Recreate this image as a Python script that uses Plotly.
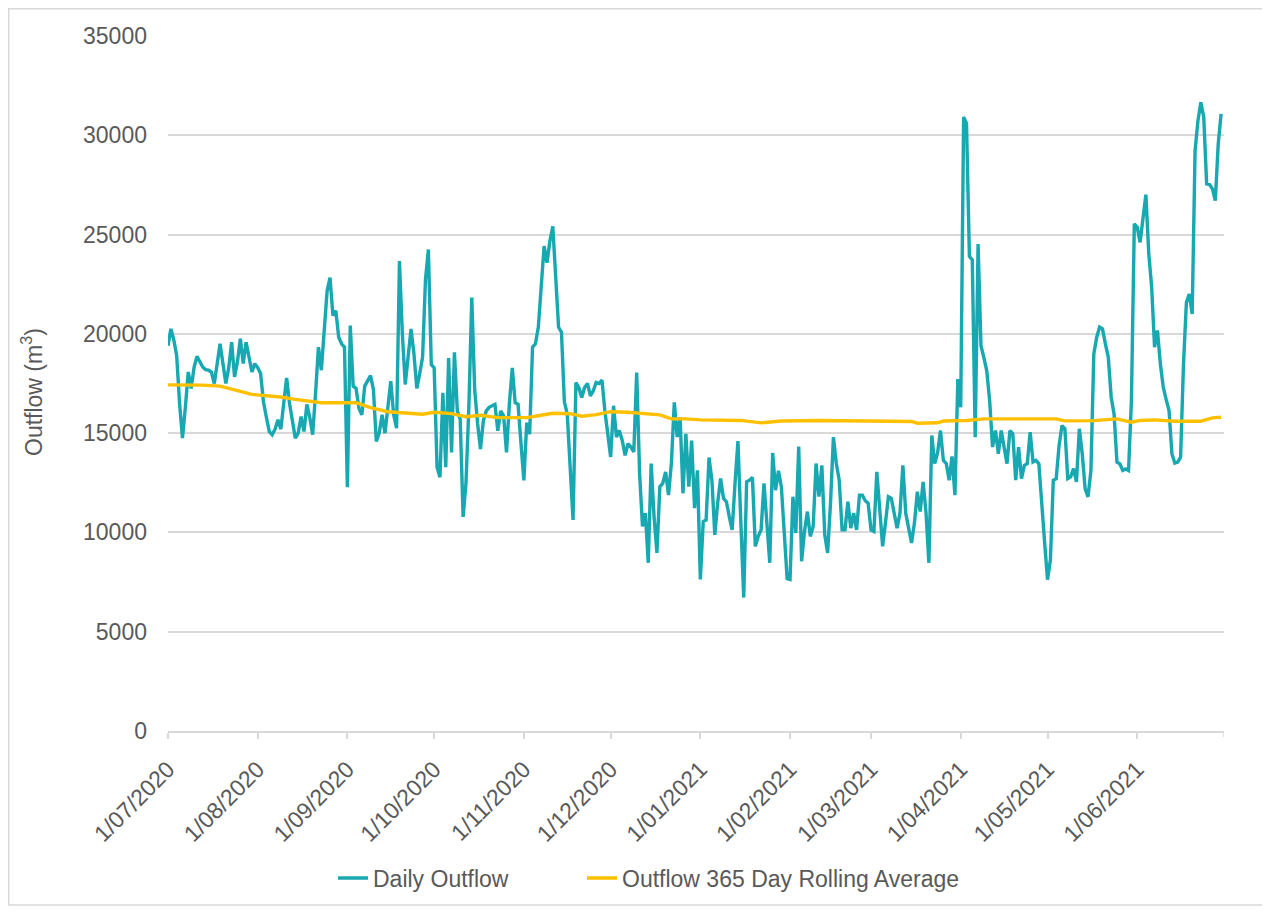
import plotly.graph_objects as go
import pandas as pd

# ---- Daily outflow (m3), one list per month ----
jul_2020 = [19400, 20250, 19700, 18900, 16500, 14750, 16300, 18080, 17250, 18300,
            18870, 18600, 18330, 18200, 18170, 18080, 17500, 18500, 19500, 18500,
            17500, 18300, 19580, 17830, 18600, 19750, 18500, 19580, 18700, 18080, 18500]
aug_2020 = [18300, 18000, 16580, 15800, 15080, 14920, 15200, 15670, 15200, 16500,
            17780, 16500, 15500, 14750, 15000, 15830, 15080, 16450, 15800, 14920,
            17000, 19330, 18170, 20300, 22170, 22830, 20920, 21170, 19830, 19500, 19330]
sep_2020 = [12280, 20420, 17370, 17250, 16250, 15920, 17370, 17600, 17900, 17200,
            14580, 15000, 15920, 15000, 16200, 17620, 15920, 15250, 23670, 20000,
            17450, 18800, 20250, 19000, 17250, 18000, 18830, 22750, 24250, 18450]
oct_2020 = [18280, 13280, 12780, 17030, 13280, 18780, 14030, 19070, 16120, 15700,
            10780, 12500, 16370, 21830, 17200, 15500, 14200, 15620, 16120, 16300,
            16400, 16450, 15120, 16120, 15870, 14030, 16500, 18280, 16530, 16450, 14500]
nov_2020 = [12620, 15530, 14950, 19330, 19500, 20330, 22500, 24420, 23580, 24670,
            25420, 22500, 20330, 20080, 16580, 15970, 13300, 10630, 17550, 17300,
            16800, 17300, 17500, 16880, 17130, 17550, 17500, 17670, 16130, 15000]
dec_2020 = [13800, 16380, 14800, 15130, 14630, 13880, 14470, 14300, 14050, 18050,
            13000, 10300, 10970, 8470, 13470, 10800, 8970, 12300, 12470, 13050,
            11880, 13500, 16550, 14800, 15800, 11970, 14970, 12300, 14630, 11220, 13130]
jan_2021 = [7630, 10550, 10630, 13770, 12630, 9880, 11500, 12720, 11720, 11550,
            10800, 10130, 12500, 14600, 10500, 6720, 12550, 12630, 12770, 9300,
            9800, 10130, 12470, 10500, 8470, 14000, 12130, 13100, 12300, 10000, 7670]
feb_2021 = [7630, 11800, 9970, 14330, 8550, 10050, 11050, 9800, 10300, 13470,
            11800, 13380, 9880, 8970, 11500, 14800, 13470, 12630, 10130, 10130,
            11550, 10220, 10970, 10130, 11880, 11880, 11600, 11470]
mar_2021 = [10130, 10050, 13050, 11000, 9300, 10500, 11800, 11720, 11000, 10220,
            10970, 13380, 10970, 10200, 9470, 10470, 12050, 11050, 12550, 11000,
            8470, 14880, 13470, 14000, 15130, 13630, 13470, 12630, 13830, 11880, 17720]
apr_2021 = [16300, 30920, 30600, 23900, 23730, 14800, 24520, 19400, 18800, 18140,
            16640, 14300, 15130, 13960, 15130, 14300, 13460, 15130, 14970, 12630,
            14300, 12710, 13380, 13460, 15050, 13550, 13630, 13460, 11290, 9500]
may_2021 = [7620, 8620, 12630, 12710, 14380, 15380, 15220, 12710, 12800, 13210,
            12550, 15220, 13960, 12210, 11790, 13120, 18990, 19830, 20340, 20250,
            19500, 18830, 16810, 15970, 13540, 13460, 13120, 13200, 13120, 16640, 25540]
jun_2021 = [25370, 24610, 25800, 27010, 24030, 22350, 19330, 20170, 18490, 17320,
            16700, 16140, 13960, 13490, 13540, 13790, 18490, 21590, 22010, 21000,
            29230, 30740, 31660, 30910, 27550, 27520, 27300, 26710, 29560, 31080]

daily_outflow = (jul_2020 + aug_2020 + sep_2020 + oct_2020 + nov_2020 + dec_2020 +
                 jan_2021 + feb_2021 + mar_2021 + apr_2021 + may_2021 + jun_2021)
daily_dates = pd.date_range("2020-07-01", periods=len(daily_outflow), freq="D")

# ---- 365 day rolling average (m3), read at selected dates ----
rolling_dates = ["2020-07-01", "2020-07-13", "2020-07-19", "2020-07-23", "2020-07-27",
                 "2020-07-30", "2020-08-03", "2020-08-09", "2020-08-14", "2020-08-18",
                 "2020-08-23", "2020-09-04", "2020-09-09", "2020-09-15", "2020-09-21",
                 "2020-09-27", "2020-10-01", "2020-10-07", "2020-10-12", "2020-10-17",
                 "2020-10-23", "2020-11-02", "2020-11-07", "2020-11-11", "2020-11-17",
                 "2020-11-21", "2020-11-26", "2020-12-01", "2020-12-07", "2020-12-13",
                 "2020-12-18", "2020-12-22", "2020-12-27", "2021-01-01", "2021-01-15",
                 "2021-01-22", "2021-01-25", "2021-01-29", "2021-02-11", "2021-02-18",
                 "2021-03-08", "2021-03-15", "2021-03-17", "2021-03-24", "2021-03-26",
                 "2021-04-03", "2021-04-09", "2021-05-04", "2021-05-07", "2021-05-17",
                 "2021-05-25", "2021-05-30", "2021-06-02", "2021-06-07", "2021-06-14",
                 "2021-06-23", "2021-06-27", "2021-06-30"]
rolling_avg = [17430, 17420, 17370, 17200, 17070,
               16950, 16900, 16820, 16700, 16620,
               16530, 16530, 16280, 16080, 16000,
               15950, 16050, 15980, 15830, 15900,
               15780, 15780, 15900, 16000, 15980,
               15850, 15930, 16080, 16050, 15970,
               15920, 15720, 15720, 15670, 15640,
               15520, 15560, 15610, 15640, 15640,
               15600, 15590, 15500, 15520, 15610,
               15640, 15720, 15720, 15620, 15630,
               15720, 15550, 15640, 15670, 15600,
               15600, 15770, 15800]

# ---- Axis ticks ----
tick_dates = ["2020-07-01", "2020-08-01", "2020-09-01", "2020-10-01", "2020-11-01",
              "2020-12-01", "2021-01-01", "2021-02-01", "2021-03-01", "2021-04-01",
              "2021-05-01", "2021-06-01"]
tick_labels = ["1/07/2020", "1/08/2020", "1/09/2020", "1/10/2020", "1/11/2020",
               "1/12/2020", "1/01/2021", "1/02/2021", "1/03/2021", "1/04/2021",
               "1/05/2021", "1/06/2021"]
axis_end = "2021-07-01"
y_title = "Outflow (m<sup>3</sup>)"

FONT = "Liberation Sans, Arial, sans-serif"
TXT = "#595959"
GRID = "#d9d9d9"
TEAL = "#17A8B1"
GOLD = "#FFC000"

# page is drawn with an 8px body margin, so figure coords = page coords - 8
OFF = 8
W, H = 1270, 911
L, T = 168 - OFF, 36 - OFF
R = W - (1224 - OFF)
B = H - (731 - OFF)
pw, ph = W - L - R, H - T - B

fig = go.Figure()
fig.add_trace(go.Scatter(x=daily_dates, y=daily_outflow, mode="lines",
                         name="Daily Outflow", legend="legend",
                         line=dict(color=TEAL, width=3.4)))
fig.add_trace(go.Scatter(x=rolling_dates, y=rolling_avg, mode="lines",
                         name="Outflow 365 Day Rolling Average", legend="legend2",
                         line=dict(color=GOLD, width=3.4)))

leg_y = 1 - (878 - OFF) / H
legend_common = dict(orientation="h", xref="container", yref="container",
                     xanchor="left", y=leg_y, yanchor="middle",
                     font=dict(family=FONT, size=23, color=TXT),
                     bgcolor="rgba(0,0,0,0)")

fig.update_layout(
    width=W, height=H,
    margin=dict(l=L, r=R, t=T, b=B, autoexpand=False),
    paper_bgcolor="white", plot_bgcolor="white",
    font=dict(family=FONT, size=23, color=TXT),
    showlegend=True,
    legend=dict(x=(373 - 40 - OFF) / W, **legend_common),
    legend2=dict(x=(622 - 40 - OFF) / W, **legend_common),
    xaxis=dict(type="date", range=["2020-07-01", axis_end],
               tickmode="array", tickvals=tick_dates, ticktext=tick_labels,
               tickangle=-45, ticks="outside", ticklen=6, tickcolor=GRID, tickwidth=1.5,
               ticklabelstandoff=8,
               showline=True, linecolor=GRID, linewidth=1.5,
               showgrid=False, zeroline=False,
               tickfont=dict(family=FONT, size=23, color=TXT)),
    yaxis=dict(range=[0, 35000], tick0=0, dtick=5000, tickformat="d",
               showgrid=True, gridcolor=GRID, gridwidth=1.5,
               showline=False, zeroline=False, ticks="",
               ticklabelstandoff=20,
               tickfont=dict(family=FONT, size=23, color=TXT)),
)

# y-axis title placed as a rotated annotation
fig.add_annotation(text=y_title, textangle=-90, showarrow=False,
                   xref="paper", yref="paper",
                   x=(32 - OFF - L) / pw, y=(731 - 392) / ph,
                   xanchor="center", yanchor="middle",
                   font=dict(family=FONT, size=23, color=TXT))

# final (unlabelled) tick mark at the axis end
fig.add_shape(type="line", xref="x", yref="paper",
              x0=axis_end, x1=axis_end, y0=0, y1=-6 / ph,
              line=dict(color=GRID, width=1.5))

# light grey chart border
fig.add_shape(type="rect", xref="paper", yref="paper",
              x0=(0.75 - L) / pw, x1=(1263 - OFF - L) / pw,
              y0=(H - B - (905 - OFF)) / ph, y1=(H - B - 0.75) / ph,
              line=dict(color=GRID, width=1.5), fillcolor="rgba(0,0,0,0)", layer="below")

fig.write_html("out.html")
